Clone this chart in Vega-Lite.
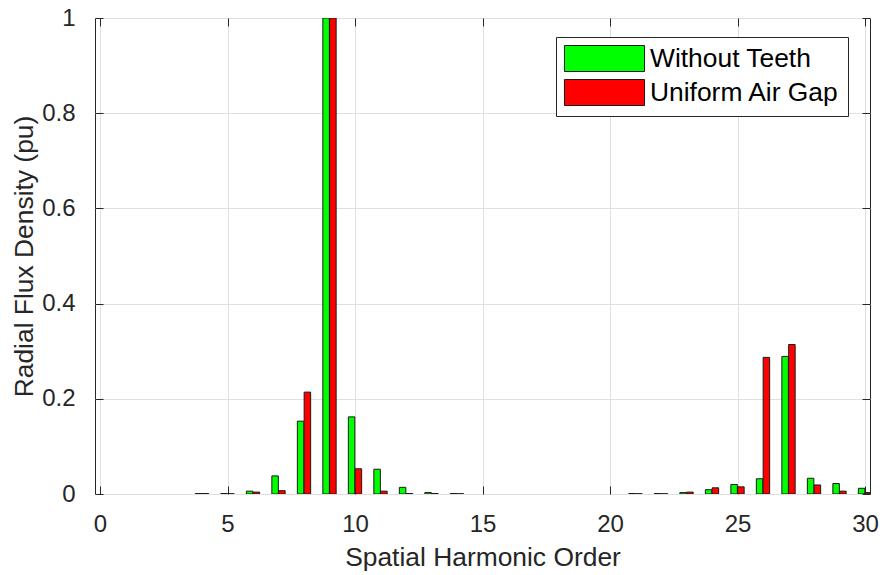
{
  "$schema": "https://vega.github.io/schema/vega-lite/v6.json",
  "width": 775,
  "height": 476,
  "autosize": "none",
  "padding": {"left": 95, "top": 18, "right": 21, "bottom": 81},
  "background": "white",
  "config": {
    "font": "Liberation Sans",
    "view": {"stroke": "#262626", "strokeWidth": 1},
    "axis": {
      "domain": false,
      "tickColor": "#262626",
      "tickSize": -8,
      "tickWidth": 1,
      "labelColor": "#262626",
      "labelFontSize": 24,
      "labelOverlap": false,
      "titleColor": "#262626",
      "titleFontSize": 26.4,
      "titleFontWeight": "normal",
      "gridColor": "#dfdfdf",
      "gridWidth": 1
    }
  },
  "data": {
    "values": [
      {"n": 4, "series": "Without Teeth", "value": 0.001},
      {"n": 4, "series": "Uniform Air Gap", "value": 0.001},
      {"n": 5, "series": "Without Teeth", "value": 0.001},
      {"n": 5, "series": "Uniform Air Gap", "value": 0.0005},
      {"n": 6, "series": "Without Teeth", "value": 0.006},
      {"n": 6, "series": "Uniform Air Gap", "value": 0.004},
      {"n": 7, "series": "Without Teeth", "value": 0.038},
      {"n": 7, "series": "Uniform Air Gap", "value": 0.007},
      {"n": 8, "series": "Without Teeth", "value": 0.153},
      {"n": 8, "series": "Uniform Air Gap", "value": 0.214},
      {"n": 9, "series": "Without Teeth", "value": 1.0},
      {"n": 9, "series": "Uniform Air Gap", "value": 1.0},
      {"n": 10, "series": "Without Teeth", "value": 0.162},
      {"n": 10, "series": "Uniform Air Gap", "value": 0.053},
      {"n": 11, "series": "Without Teeth", "value": 0.052},
      {"n": 11, "series": "Uniform Air Gap", "value": 0.006},
      {"n": 12, "series": "Without Teeth", "value": 0.014},
      {"n": 12, "series": "Uniform Air Gap", "value": 0.001},
      {"n": 13, "series": "Without Teeth", "value": 0.003},
      {"n": 13, "series": "Uniform Air Gap", "value": 0.001},
      {"n": 14, "series": "Without Teeth", "value": 0.001},
      {"n": 14, "series": "Uniform Air Gap", "value": 0.0005},
      {"n": 21, "series": "Without Teeth", "value": 0.001},
      {"n": 21, "series": "Uniform Air Gap", "value": 0.0005},
      {"n": 22, "series": "Without Teeth", "value": 0.001},
      {"n": 22, "series": "Uniform Air Gap", "value": 0.0005},
      {"n": 23, "series": "Without Teeth", "value": 0.003},
      {"n": 23, "series": "Uniform Air Gap", "value": 0.004},
      {"n": 24, "series": "Without Teeth", "value": 0.009},
      {"n": 24, "series": "Uniform Air Gap", "value": 0.013},
      {"n": 25, "series": "Without Teeth", "value": 0.02},
      {"n": 25, "series": "Uniform Air Gap", "value": 0.015},
      {"n": 26, "series": "Without Teeth", "value": 0.032},
      {"n": 26, "series": "Uniform Air Gap", "value": 0.287},
      {"n": 27, "series": "Without Teeth", "value": 0.289},
      {"n": 27, "series": "Uniform Air Gap", "value": 0.314},
      {"n": 28, "series": "Without Teeth", "value": 0.033},
      {"n": 28, "series": "Uniform Air Gap", "value": 0.019},
      {"n": 29, "series": "Without Teeth", "value": 0.022},
      {"n": 29, "series": "Uniform Air Gap", "value": 0.006},
      {"n": 30, "series": "Without Teeth", "value": 0.012},
      {"n": 30, "series": "Uniform Air Gap", "value": 0.003}
    ]
  },
  "encoding": {
    "color": {
      "field": "series",
      "type": "nominal",
      "scale": {"domain": ["Without Teeth", "Uniform Air Gap"], "range": ["#00ff00", "#ff0000"]},
      "legend": {
        "title": null,
        "orient": "none",
        "legendX": 461,
        "legendY": 19,
        "fillColor": "white",
        "strokeColor": "#262626",
        "padding": 8,
        "labelFontSize": 26.4,
        "labelColor": "#000000",
        "labelLimit": 400,
        "symbolType": "M-3.08,-1H3.08V1H-3.08Z",
        "symbolSize": 676,
        "symbolOffset": 27,
        "labelOffset": 32,
        "symbolStrokeColor": "#1a1a1a",
        "symbolStrokeWidth": 1,
        "symbolOpacity": 1,
        "rowPadding": 3
      }
    }
  },
  "layer": [
    {
      "transform": [{"filter": "datum.series === 'Without Teeth'"}],
      "mark": {"type": "bar", "width": 6.5, "xOffset": -3.4, "stroke": "#1a1a1a", "strokeWidth": 1, "clip": true, "opacity": 1},
      "encoding": {
        "x": {
          "field": "n", "type": "quantitative",
          "scale": {"domain": [0, 30], "nice": false, "zero": false},
          "axis": {"values": [0, 5, 10, 15, 20, 25, 30], "labelFlush": false, "title": "Spatial Harmonic Order", "labelPadding": 26, "titlePadding": 8, "grid": true}
        },
        "y": {
          "field": "value", "type": "quantitative",
          "scale": {"domain": [0, 1], "nice": false},
          "axis": {"values": [0, 0.2, 0.4, 0.6, 0.8, 1], "labelFlush": false, "format": "~g", "title": "Radial Flux Density (pu)", "labelPadding": 28, "titlePadding": 3, "grid": true}
        }
      }
    },
    {
      "transform": [{"filter": "datum.series === 'Uniform Air Gap'"}],
      "mark": {"type": "bar", "width": 6.5, "xOffset": 3.4, "stroke": "#1a1a1a", "strokeWidth": 1, "clip": true, "opacity": 1},
      "encoding": {
        "x": {
          "field": "n", "type": "quantitative",
          "scale": {"domain": [0, 30], "nice": false, "zero": false},
          "axis": {"orient": "top", "values": [0, 5, 10, 15, 20, 25, 30], "labels": false, "title": null, "grid": false}
        },
        "y": {
          "field": "value", "type": "quantitative",
          "scale": {"domain": [0, 1], "nice": false},
          "axis": {"orient": "right", "values": [0, 0.2, 0.4, 0.6, 0.8, 1], "labels": false, "title": null, "grid": false}
        }
      }
    }
  ],
  "resolve": {"axis": {"x": "independent", "y": "independent"}}
}
